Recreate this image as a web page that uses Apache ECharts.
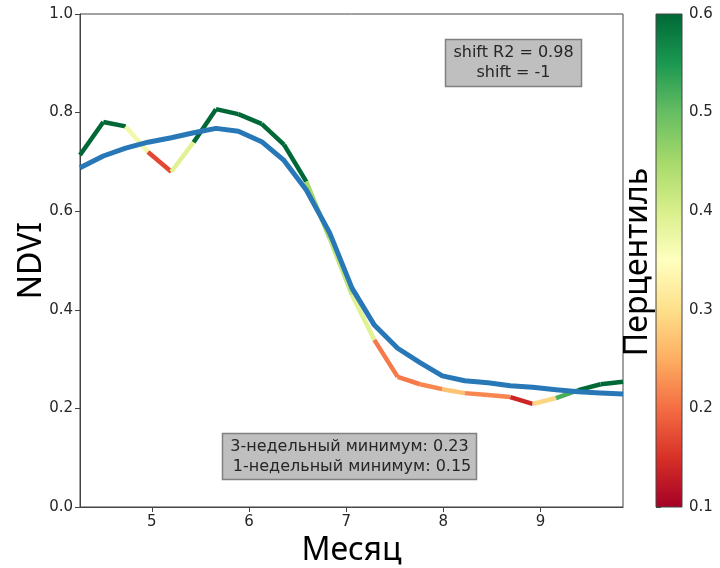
<!DOCTYPE html>
<html>
<head>
<meta charset="utf-8">
<script src="https://cdn.jsdelivr.net/npm/echarts@6/dist/echarts.min.js"></script>
<style>html,body{margin:0;padding:0;background:#fff}#c{width:720px;height:568px}</style>
</head>
<body>
<div id="c"></div>
<script>
// Month positions (weekly samples)
var months = [4.26,4.50,4.73,4.96,5.20,5.43,5.66,5.89,6.13,6.36,6.59,6.83,7.06,7.29,7.53,7.76,7.99,8.22,8.46,8.69,8.92,9.16,9.39,9.62,9.85];
// Observed NDVI (coloured by percentile)
var ndviObserved = [0.714,0.781,0.772,0.720,0.680,0.740,0.807,0.797,0.777,0.735,0.660,0.545,0.430,0.339,0.264,0.249,0.239,0.231,0.227,0.223,0.209,0.221,0.237,0.249,0.254];
// Reference (shifted) NDVI curve
var ndviReference = [0.688,0.712,0.728,0.740,0.749,0.759,0.768,0.762,0.741,0.703,0.643,0.556,0.444,0.369,0.322,0.293,0.266,0.256,0.252,0.246,0.243,0.238,0.234,0.231,0.229];
// Percentile of each segment between consecutive observations
var segmentPercentile = [0.60,0.60,0.37,0.17,0.39,0.60,0.60,0.60,0.60,0.60,0.45,0.42,0.39,0.21,0.21,0.22,0.27,0.22,0.22,0.14,0.29,0.52,0.60,0.60];
var xTicks = [5,6,7,8,9];
var cbarTicks = [0.1,0.2,0.3,0.4,0.5,0.6];
var infoTop = ['shift R2 = 0.98','shift = -1'];
var infoBottom = ['3-недельный минимум: 0.23',' 1-недельный минимум: 0.15'];

var RdYlGn = ['#a50026','#d73027','#f46d43','#fdae61','#fee08b','#ffffbf','#d9ef8b','#a6d96a','#66bd63','#1a9850','#006837'];
var cMin = 0.1, cMax = 0.6;
function hex2rgb(h){return [parseInt(h.substr(1,2),16),parseInt(h.substr(3,2),16),parseInt(h.substr(5,2),16)];}
function cmap(v){
  var t = Math.max(0, Math.min(1, (v - cMin)/(cMax - cMin)));
  var p = t*(RdYlGn.length-1), i = Math.min(Math.floor(p), RdYlGn.length-2), f = p - i;
  var a = hex2rgb(RdYlGn[i]), b = hex2rgb(RdYlGn[i+1]);
  return 'rgb(' + [0,1,2].map(function(k){return Math.round(a[k]+(b[k]-a[k])*f);}).join(',') + ')';
}

var series = [];
for (var i = 0; i < months.length - 1; i++) {
  series.push({
    type:'line', xAxisIndex:0, yAxisIndex:0, showSymbol:false, silent:true, z:2,
    data:[[months[i], ndviObserved[i]],[months[i+1], ndviObserved[i+1]]],
    lineStyle:{color:cmap(segmentPercentile[i]), width:4.5, cap:'butt', join:'miter'}
  });
}
series.push({
  type:'line', xAxisIndex:0, yAxisIndex:0, showSymbol:false, silent:true, z:3,
  data: months.map(function(m,k){return [m, ndviReference[k]];}),
  lineStyle:{color:'#2878b8', width:5, join:'round'}
});

var tickFont = {fontFamily:'DejaVu Sans', fontSize:15, color:'#262626'};
var stops = RdYlGn.slice().reverse().map(function(c,k){return {offset:k/(RdYlGn.length-1), color:c};});

var chart = echarts.init(document.getElementById('c'), null, {renderer:'canvas'});
chart.setOption({
  animation:false,
  backgroundColor:'#fff',
  grid:[
    {left:80, right:97, top:14, bottom:61, show:true, borderColor:'#444', borderWidth:1, backgroundColor:'transparent', containLabel:false, outerBoundsMode:'none'},
    {left:656, width:26, top:14, height:493, show:false, containLabel:false, outerBoundsMode:'none'}
  ],
  xAxis:[
    {type:'value', gridIndex:0, min:4.26, max:9.85,
     name:'Месяц', nameLocation:'middle', nameGap:28, nameMoveOverlap:false,
     nameTextStyle:{fontFamily:'Noto Sans', fontSize:32, color:'#000'},
     axisLine:{show:true, lineStyle:{color:'#444'}},
     axisTick:{show:true, length:5, lineStyle:{color:'#444'}, customValues:xTicks},
     axisLabel:Object.assign({customValues:xTicks, margin:8}, tickFont),
     splitLine:{show:false}},
    {type:'value', gridIndex:1, min:0, max:1, show:false}
  ],
  yAxis:[
    {type:'value', gridIndex:0, min:0, max:1, interval:0.2,
     name:'NDVI', nameLocation:'middle', nameGap:32, nameRotate:90, nameMoveOverlap:false,
     nameTextStyle:{fontFamily:'Noto Sans', fontSize:32, color:'#000'},
     axisLine:{show:true, lineStyle:{color:'#444'}},
     axisTick:{show:true, length:5, lineStyle:{color:'#444'}},
     axisLabel:Object.assign({formatter:function(v){return v.toFixed(1);}, margin:7}, tickFont),
     splitLine:{show:false}},
    {type:'value', gridIndex:1, min:0.1, max:0.6, interval:0.1, position:'right',
     axisLine:{show:false},
     axisTick:{show:true, length:5, lineStyle:{color:'#444'}, customValues:cbarTicks},
     axisLabel:Object.assign({formatter:function(v){return v.toFixed(1);}, margin:7, customValues:cbarTicks}, tickFont),
     splitLine:{show:false}}
  ],
  series: series,
  graphic:[
    {type:'rect', silent:true, z:1, shape:{x:656, y:14, width:26, height:493},
     style:{fill:new echarts.graphic.LinearGradient(0,0,0,1,stops), stroke:'#444', lineWidth:1}},
    {type:'text', silent:true, x:638, y:262, rotation:Math.PI/2,
     style:{text:'Перцентиль', font:'32px "Noto Sans"', fill:'#000', align:'center', verticalAlign:'middle'}},
    {type:'rect', silent:true, z:10, shape:{x:445.5, y:39.5, width:136, height:47},
     style:{fill:'#bfbfbf', stroke:'#808080', lineWidth:1.5}},
    {type:'text', silent:true, z:11, x:513.5, y:63,
     style:{text:infoTop.join('\n'), font:'16px "DejaVu Sans"', fill:'#262626', align:'center', verticalAlign:'middle', lineHeight:20}},
    {type:'rect', silent:true, z:10, shape:{x:222.5, y:433.5, width:254, height:46},
     style:{fill:'#bfbfbf', stroke:'#808080', lineWidth:1.5}},
    {type:'text', silent:true, z:11, x:349.5, y:456.5,
     style:{text:infoBottom.join('\n'), font:'16px "DejaVu Sans"', fill:'#262626', align:'center', verticalAlign:'middle', lineHeight:20}}
  ]
});
</script>
</body>
</html>
